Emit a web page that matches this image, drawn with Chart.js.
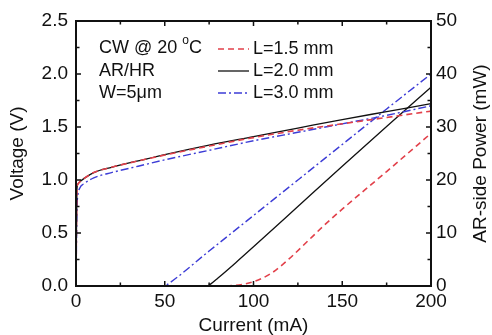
<!DOCTYPE html>
<html>
<head>
<meta charset="utf-8">
<script src="https://cdn.jsdelivr.net/npm/chart.js@4.4.0/dist/chart.umd.min.js"></script>
<style>
html, body { margin: 0; padding: 0; background: #fff; }
#wrap { width: 492px; height: 335px; }
</style>
</head>
<body>
<div id="wrap"><canvas id="chart" width="492" height="335"></canvas></div>
<script>
// Voltage curves (left axis), current in mA
const currentV = [0, 0.5, 1, 2, 5, 10, 20, 35, 50, 75, 100, 125, 150, 175, 200];
const voltage15 = [0, 0.90, 0.96, 0.98, 1.02, 1.07, 1.12, 1.18, 1.235, 1.32, 1.40, 1.47, 1.53, 1.59, 1.65];
const voltage20 = [0, 0.90, 0.96, 0.98, 1.02, 1.07, 1.12, 1.18, 1.24, 1.33, 1.41, 1.49, 1.57, 1.645, 1.72];
const voltage30 = [0, 0.70, 0.85, 0.92, 0.97, 1.02, 1.07, 1.13, 1.19, 1.28, 1.37, 1.45, 1.53, 1.61, 1.70];

// AR-side power curves (right axis)
const currentP15 = [0, 75, 90, 100, 110, 120, 130, 140, 150, 175, 200];
const power15 = [0, 0, 0.15, 0.8, 2.4, 5.1, 8.3, 11.5, 14.5, 21.6, 28.8];
const currentP20 = [0, 74, 76, 80, 90, 100, 125, 150, 175, 200];
const power20 = [0, 0, 0.4, 1.5, 4.4, 7.4, 15, 22.6, 30.1, 37.5];
const currentP30 = [0, 50, 52, 75, 100, 125, 150, 175, 200];
const power30 = [0, 0, 0.4, 6.6, 13.3, 20, 26.7, 33.4, 40];

const lengthLabels = ['L=1.5 mm', 'L=2.0 mm', 'L=3.0 mm'];
const xTicks = [0, 50, 100, 150, 200];

const FONT = "'Liberation Sans', Arial, sans-serif";
const RED = '#e2404a';
const BLACK = '#111111';
const BLUE = '#3c3cd6';

function pairs(xs, ys) {
    return xs.map((x, i) => ({ x: x, y: ys[i] }));
}

function lineSet(label, xs, ys, color, dash, width, axis) {
    return {
        label: label,
        data: pairs(xs, ys),
        borderColor: color,
        borderDash: dash,
        borderWidth: width,
        pointRadius: 0,
        fill: false,
        cubicInterpolationMode: 'monotone',
        yAxisID: axis,
        clip: 4
    };
}

const styles = [
    { color: RED, dash: [6, 4], width: 1.6 },
    { color: BLACK, dash: [], width: 1.3 },
    { color: BLUE, dash: [8, 3, 2, 3], width: 1.4 }
];

// Inward ticks, frame, legend and notes
const decorPlugin = {
    id: 'decor',
    afterDatasetsDraw(chart) {
        const ctx = chart.ctx;
        const a = chart.chartArea;
        const xs = chart.scales.x, yl = chart.scales.y, yr = chart.scales.y2;
        ctx.save();
        ctx.strokeStyle = BLACK;
        ctx.lineWidth = 1.5;
        ctx.beginPath();
        for (let v = 0; v <= 200; v += 25) {
            const px = xs.getPixelForValue(v);
            const len = v % 50 === 0 ? 5 : 3.5;
            ctx.moveTo(px, a.bottom); ctx.lineTo(px, a.bottom - len);
            ctx.moveTo(px, a.top); ctx.lineTo(px, a.top + len);
        }
        for (let v = 0; v <= 2.5001; v += 0.25) {
            const py = yl.getPixelForValue(v);
            const len = Math.round(v * 4) % 2 === 0 ? 5 : 3.5;
            ctx.moveTo(a.left, py); ctx.lineTo(a.left + len, py);
        }
        for (let v = 0; v <= 50; v += 5) {
            const py = yr.getPixelForValue(v);
            const len = v % 10 === 0 ? 5 : 3.5;
            ctx.moveTo(a.right, py); ctx.lineTo(a.right - len, py);
        }
        ctx.stroke();

        ctx.lineWidth = 2;
        ctx.strokeRect(a.left, a.top, a.right - a.left, a.bottom - a.top);

        // legend for the three lengths
        const rows = [49, 71, 93];
        ctx.font = '18px ' + FONT;
        ctx.textBaseline = 'middle';
        ctx.textAlign = 'left';
        lengthLabels.forEach((lab, i) => {
            const s = styles[i];
            ctx.strokeStyle = s.color;
            ctx.lineWidth = s.width;
            ctx.setLineDash(s.dash);
            ctx.beginPath();
            ctx.moveTo(218, rows[i]);
            ctx.lineTo(249, rows[i]);
            ctx.stroke();
            ctx.setLineDash([]);
            ctx.fillStyle = BLACK;
            ctx.fillText(lab, 253, rows[i]);
        });

        // notes
        ctx.fillStyle = BLACK;
        ctx.font = '18px ' + FONT;
        let x = 99;
        const first = 'CW @ 20 ';
        ctx.fillText(first, x, 48);
        x += ctx.measureText(first).width;
        ctx.font = '12px ' + FONT;
        ctx.fillText('o', x, 41);
        x += ctx.measureText('o').width;
        ctx.font = '18px ' + FONT;
        ctx.fillText('C', x, 48);
        ctx.fillText('AR/HR', 99, 71);
        ctx.fillText('W=5\u03bcm', 99, 93);

        // right axis title, reading upward
        ctx.save();
        ctx.translate(481, (a.top + a.bottom) / 2);
        ctx.rotate(-Math.PI / 2);
        ctx.textAlign = 'center';
        ctx.font = '19px ' + FONT;
        ctx.fillText('AR-side Power (mW)', 0, 0);
        ctx.restore();
        ctx.restore();
    }
};

const ctx = document.getElementById('chart');
new Chart(ctx, {
    type: 'line',
    data: {
        datasets: [
            lineSet(lengthLabels[0], currentV, voltage15, RED, styles[0].dash, styles[0].width, 'y'),
            lineSet(lengthLabels[1], currentV, voltage20, BLACK, styles[1].dash, styles[1].width, 'y'),
            lineSet(lengthLabels[2], currentV, voltage30, BLUE, styles[2].dash, styles[2].width, 'y'),
            lineSet(lengthLabels[0], currentP15, power15, RED, styles[0].dash, styles[0].width, 'y2'),
            lineSet(lengthLabels[1], currentP20, power20, BLACK, styles[1].dash, styles[1].width, 'y2'),
            lineSet(lengthLabels[2], currentP30, power30, BLUE, styles[2].dash, styles[2].width, 'y2')
        ]
    },
    options: {
        responsive: false,
        animation: false,
        layout: { padding: { top: 21, left: 0, right: 0, bottom: 0 } },
        plugins: {
            legend: { display: false },
            tooltip: { enabled: false }
        },
        scales: {
            x: {
                type: 'linear',
                min: 0,
                max: 200,
                afterFit: s => { s.height = 49; },
                afterBuildTicks: s => { s.ticks = xTicks.map(v => ({ value: v })); },
                grid: { display: false, drawTicks: false },
                border: { display: false },
                ticks: { padding: 4, color: BLACK, font: { family: FONT, size: 19 }, maxRotation: 0 },
                title: { display: true, text: 'Current (mA)', color: BLACK, padding: 0, font: { family: FONT, size: 19, lineHeight: 1.0 } }
            },
            y: {
                position: 'left',
                min: 0,
                max: 2.5,
                afterFit: s => { s.width = 76; },
                grid: { display: false, drawTicks: false },
                border: { display: false },
                ticks: { stepSize: 0.5, padding: 8, color: BLACK, font: { family: FONT, size: 19 },
                    callback: v => v.toFixed(1) },
                title: { display: true, text: 'Voltage (V)', color: BLACK, padding: { top: 6 }, font: { family: FONT, size: 19 } }
            },
            y2: {
                position: 'right',
                min: 0,
                max: 50,
                afterFit: s => { s.width = 61; },
                grid: { display: false, drawTicks: false },
                border: { display: false },
                ticks: { stepSize: 10, padding: 5, color: BLACK, font: { family: FONT, size: 19 } }
            }
        }
    },
    plugins: [decorPlugin]
});
</script>
</body>
</html>
